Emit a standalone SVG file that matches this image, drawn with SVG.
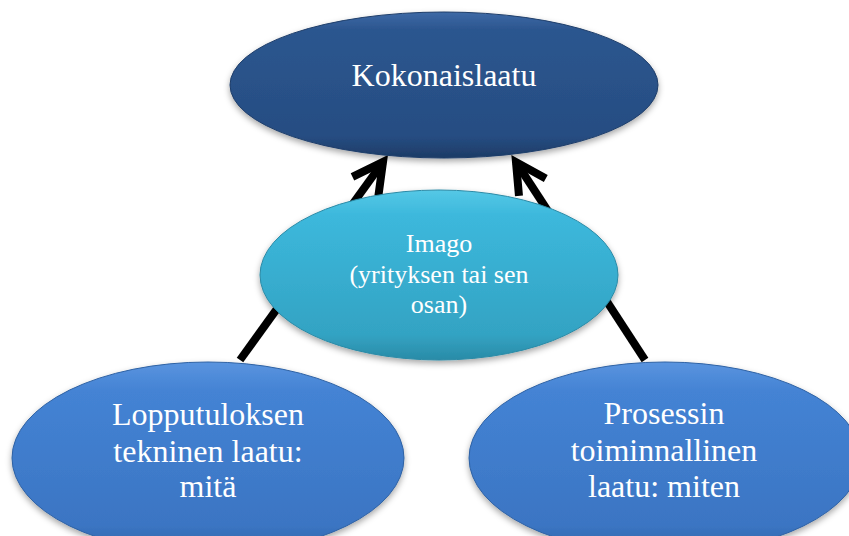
<svg xmlns="http://www.w3.org/2000/svg" width="849" height="536" viewBox="0 0 849 536">
<defs>
<style>
.t{font-family:"Liberation Serif","Times New Roman",serif;fill:#fff;text-anchor:middle}
.big{font-size:32px}
.mid{font-size:26px}
.ln{stroke:#000;stroke-width:8;fill:none}
</style>
<linearGradient id="gTop" x1="0" y1="0" x2="0" y2="1">
<stop offset="0" stop-color="#3d69a6"/><stop offset="0.12" stop-color="#2c568f"/><stop offset="0.85" stop-color="#264d82"/><stop offset="1" stop-color="#1d3b66"/>
</linearGradient>
<linearGradient id="gImg" x1="0" y1="0" x2="0" y2="1">
<stop offset="0" stop-color="#55c8e6"/><stop offset="0.15" stop-color="#3cb8dc"/><stop offset="0.85" stop-color="#33a3c3"/><stop offset="1" stop-color="#2a8ba7"/>
</linearGradient>
<linearGradient id="gBot" x1="0" y1="0" x2="0" y2="1">
<stop offset="0" stop-color="#5a94df"/><stop offset="0.15" stop-color="#4483d4"/><stop offset="0.85" stop-color="#3b75c3"/><stop offset="1" stop-color="#3063a6"/>
</linearGradient>
<filter id="sh" x="-10%" y="-10%" width="120%" height="130%">
<feDropShadow dx="0" dy="3" stdDeviation="3" flood-color="#000" flood-opacity="0.35"/>
</filter>
<marker id="arr" markerUnits="userSpaceOnUse" viewBox="-40 -25 50 50" markerWidth="50" markerHeight="50" refX="0" refY="0" orient="auto">
<path d="M-30,-16 L0,0 L-30,16" fill="none" stroke="#000" stroke-width="8" stroke-linejoin="miter"/>
</marker>
</defs>
<g id="connectors">
<line class="ln" x1="240" y1="360" x2="383" y2="162" marker-end="url(#arr)"/>
<line class="ln" x1="645" y1="360" x2="516" y2="162" marker-end="url(#arr)"/>
</g>
<g id="node-kokonaislaatu">
<ellipse cx="444" cy="85" rx="214" ry="73" fill="url(#gTop)" stroke="#1f3e6a" stroke-width="1" filter="url(#sh)"/>
<text class="t big" x="444" y="86">Kokonaislaatu</text>
</g>
<g id="node-imago">
<ellipse cx="439" cy="275" rx="179" ry="85" fill="url(#gImg)" stroke="#2a8aa6" stroke-width="1" filter="url(#sh)"/>
<text class="t mid" x="439" y="252">Imago</text>
<text class="t mid" x="439" y="283">(yrityksen tai sen</text>
<text class="t mid" x="439" y="313">osan)</text>
</g>
<g id="node-lopputulos">
<ellipse cx="208" cy="458" rx="196" ry="96" fill="url(#gBot)" stroke="#2f62a4" stroke-width="1" filter="url(#sh)"/>
<text class="t big" x="208" y="425">Lopputuloksen</text>
<text class="t big" x="208" y="462">tekninen laatu:</text>
<text class="t big" x="208" y="497">mitä</text>
</g>
<g id="node-prosessi">
<ellipse cx="665" cy="458" rx="196" ry="96" fill="url(#gBot)" stroke="#2f62a4" stroke-width="1" filter="url(#sh)"/>
<text class="t big" x="664" y="424">Prosessin</text>
<text class="t big" x="664" y="461">toiminnallinen</text>
<text class="t big" x="664" y="497">laatu: miten</text>
</g>
</svg>
